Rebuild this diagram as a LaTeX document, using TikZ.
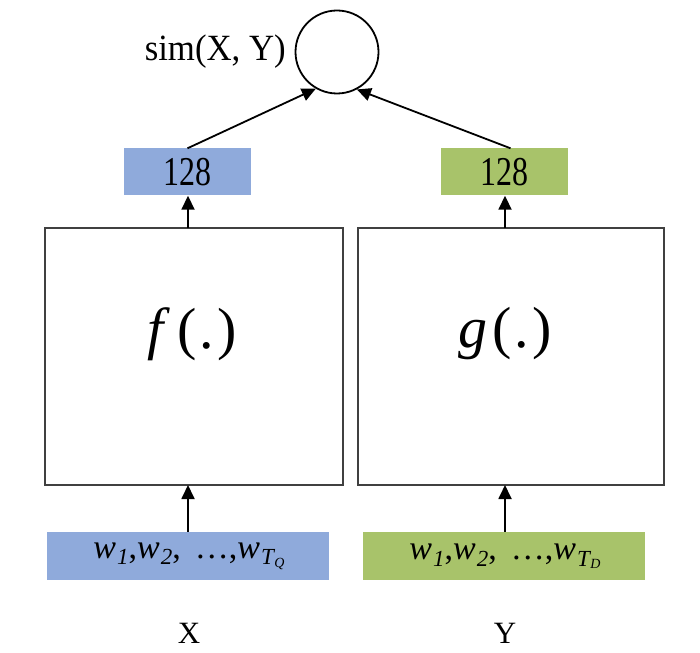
\documentclass[tikz,border=0pt]{standalone}
\usepackage{fontspec}
\setmainfont{Liberation Serif}
\newfontfamily\condfont[FakeStretch=0.78]{Liberation Serif}
\newfontfamily\simfont[FakeStretch=0.94]{Liberation Serif}
\usetikzlibrary{arrows.meta}
\definecolor{bluebox}{RGB}{143,170,219}
\definecolor{greenbox}{RGB}{168,195,106}
\newcommand{\wsub}[1]{\textit{w}\kern1pt\raisebox{-0.2em}{\fontsize{23}{24}\selectfont\itshape #1}}
\begin{document}
\begin{tikzpicture}[x=1pt,y=-1pt,
  numlbl/.style={font=\condfont\fontsize{41}{44}\selectfont},
  colbox/.style={minimum height=47pt,inner sep=0pt},
  bigbox/.style={draw=black!75,line width=1.2pt,minimum height=257pt,inner sep=0pt},
  fnlbl/.style={font=\fontsize{58}{62}\selectfont},
  seqlbl/.style={font=\fontsize{34}{36}\selectfont},
  arr/.style={-{Triangle[length=14pt,width=13pt]},line width=1.8pt}]
\useasboundingbox (0,0) rectangle (700,652);
\node[draw,circle,line width=1.8pt,minimum size=83pt,inner sep=0pt] (c) at (337,52) {};
\node[font=\simfont\fontsize{37}{40}\selectfont,anchor=east,inner sep=0pt] (sim) at (286,52) {sim(X, Y)};
\node[colbox,fill=bluebox,minimum width=127pt,numlbl] (b1) at (187.5,172) {128};
\node[colbox,fill=greenbox,minimum width=127pt,numlbl] (b2) at (504.5,172) {128};
\node[bigbox,minimum width=298pt] (f) at (194,356.5) {};
\node[bigbox,minimum width=306pt] (g) at (511,356.5) {};
\node[fnlbl] (fl) at (192,334) {\textit{f}\kern7pt(\kern3pt.\kern3pt)};
\node[fnlbl] (gl) at (505,334) {\textit{g}\kern5pt(\kern3pt.\kern3pt)};
\node[colbox,fill=bluebox,minimum width=282pt,minimum height=48pt] (i1) at (188,556) {};
\node[colbox,fill=greenbox,minimum width=282pt,minimum height=48pt] (i2) at (504,556) {};
\node[seqlbl] (s1) at (189,556) {\wsub{1},\wsub{2}, \,\ldots,\wsub{T\kern0.5pt\raisebox{-0.1em}{\fontsize{14}{14}\selectfont Q}}};
\node[seqlbl] (s2) at (505,556) {\wsub{1},\wsub{2}, \,\ldots,\wsub{T\kern0.5pt\raisebox{-0.1em}{\fontsize{14}{14}\selectfont D}}};
\node[font=\fontsize{31}{33}\selectfont] (x) at (189,633) {X};
\node[font=\fontsize{31}{33}\selectfont] (y) at (505,633) {Y};
\coordinate (fx) at (188,485);
\coordinate (gx) at (505,485);
\coordinate (ft) at (188,228);
\coordinate (gt) at (505,228);
\draw[arr] (i1.north) -- (fx);
\draw[arr] (i2.north -| gx) -- (gx);
\draw[arr] (ft) -- (ft |- b1.south);
\draw[arr] (gt) -- (gt |- b2.south);
\draw[arr] (b1.north) -- (c.240);
\draw[arr] ([xshift=6pt]b2.north) -- (c.298);
\end{tikzpicture}
\end{document}
